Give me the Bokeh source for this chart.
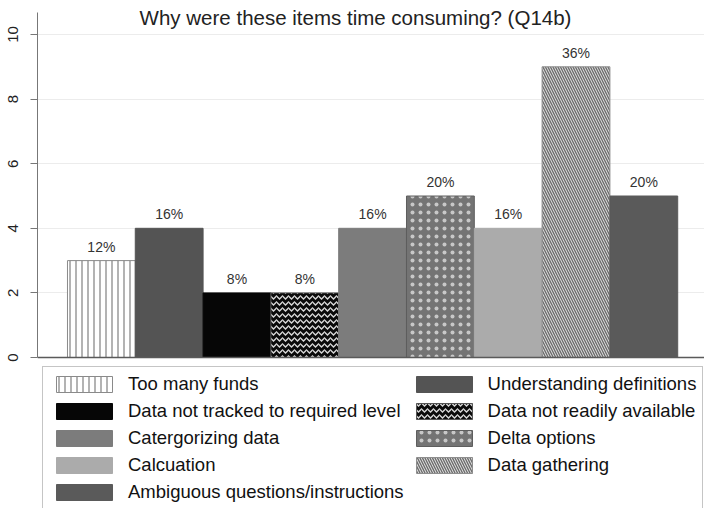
from bokeh.plotting import figure
from bokeh.models import ColumnDataSource, Legend, LegendItem, Label, Span, FixedTicker, Range1d
from bokeh.core.properties import value
from bokeh.embed import file_html
from bokeh.resources import INLINE

# ---- data ----
categories = [
    "Too many funds",
    "Understanding definitions",
    "Data not tracked to required level",
    "Data not readily available",
    "Catergorizing data",
    "Delta options",
    "Calcuation",
    "Data gathering",
    "Ambiguous questions/instructions",
]
counts = [3, 4, 2, 2, 4, 5, 4, 9, 5]
pct_labels = ["12%", "16%", "8%", "8%", "16%", "20%", "16%", "36%", "20%"]
y_ticks = [0, 2, 4, 6, 8, 10]
title_text = "Why were these items time consuming? (Q14b)"

# ---- styles ----
fills = ["#ffffff", "#545454", "#060606", "#0a0a0a", "#7c7c7c", "#747474", "#ababab", "#dcdcdc", "#5a5a5a"]
lines = ["#8a8a8a", "#545454", "#060606", "#555555", "#7c7c7c", "#5e5e5e", "#ababab", "#8e8e8e", "#5a5a5a"]
hatches = ["vertical_line", " ", " ", "horizontal_wave", " ", "dot", " ", "left_diagonal_line", " "]
hatch_colors = ["#8a8a8a", "#000000", "#000000", "#d8d8d8", "#000000", "#c8c8c8", "#000000", "#6a6a6a", "#000000"]
hatch_scales = [6, 12, 12, 6, 12, 8, 12, 5, 12]

xs = list(range(len(categories)))
src = ColumnDataSource(dict(
    x=xs, count=counts, pct=pct_labels, cat=categories,
    fill=fills, line=lines, hatch=hatches, hcolor=hatch_colors, hscale=hatch_scales,
))

p = figure(
    width=704, height=508,
    x_range=Range1d(-0.942, 8.895), y_range=Range1d(-4.675, 11.053),
    output_backend="svg", toolbar_location=None,
    x_axis_location=None,
    min_border_left=37, min_border_right=0, min_border_top=0, min_border_bottom=0,
)
p.outline_line_color = None
p.background_fill_color = "white"
p.border_fill_color = "white"

p.xgrid.grid_line_color = None
p.ygrid.ticker = FixedTicker(ticks=y_ticks)
p.ygrid.grid_line_color = "#ececec"

ax = p.yaxis[0]
ax.ticker = FixedTicker(ticks=y_ticks)
ax.bounds = (0, 10.68)
ax.major_label_orientation = "vertical"
ax.major_label_text_font = "Liberation Sans"
ax.major_label_text_font_size = "15px"
ax.major_label_text_color = "#222222"
ax.axis_line_color = "#777777"
ax.major_tick_line_color = "#777777"
ax.major_tick_out = 7
ax.major_tick_in = 0
ax.minor_tick_line_color = None
ax.major_label_standoff = 12

bars = p.vbar(
    x="x", top="count", width=1.0, source=src,
    fill_color="fill", line_color="line", line_width=1,
    hatch_pattern="hatch", hatch_color="hcolor", hatch_scale="hscale", hatch_weight=1.3,
)

p.add_layout(Span(location=0, dimension="width", line_color="#5a5a5a", line_width=1.5))

p.text(
    x="x", y="count", text="pct", source=src,
    text_align="center", text_baseline="middle", y_offset=-14,
    text_font=value("Liberation Sans"), text_font_size=value("14px"), text_color="#333333",
)

p.add_layout(Label(
    x=3.748, y=10.52, text=title_text,
    text_align="center", text_baseline="middle",
    text_font="Liberation Sans", text_font_size="20.5px", text_color="#222222",
))

items = [LegendItem(label=c, renderers=[bars], index=i) for i, c in enumerate(categories)]
legend = Legend(
    items=items, location=(5, -2), orientation="horizontal", ncols=2,
    glyph_width=70, glyph_height=20, label_height=20, label_standoff=9,
    spacing=5, padding=6, margin=0,
    label_text_font="Liberation Sans", label_text_font_size="18.5px", label_text_color="#111111",
    border_line_color="#8c8c8c", border_line_width=1,
    background_fill_color="white", background_fill_alpha=1.0,
)
p.add_layout(legend)

open("out.html", "w").write(file_html(p, INLINE))
